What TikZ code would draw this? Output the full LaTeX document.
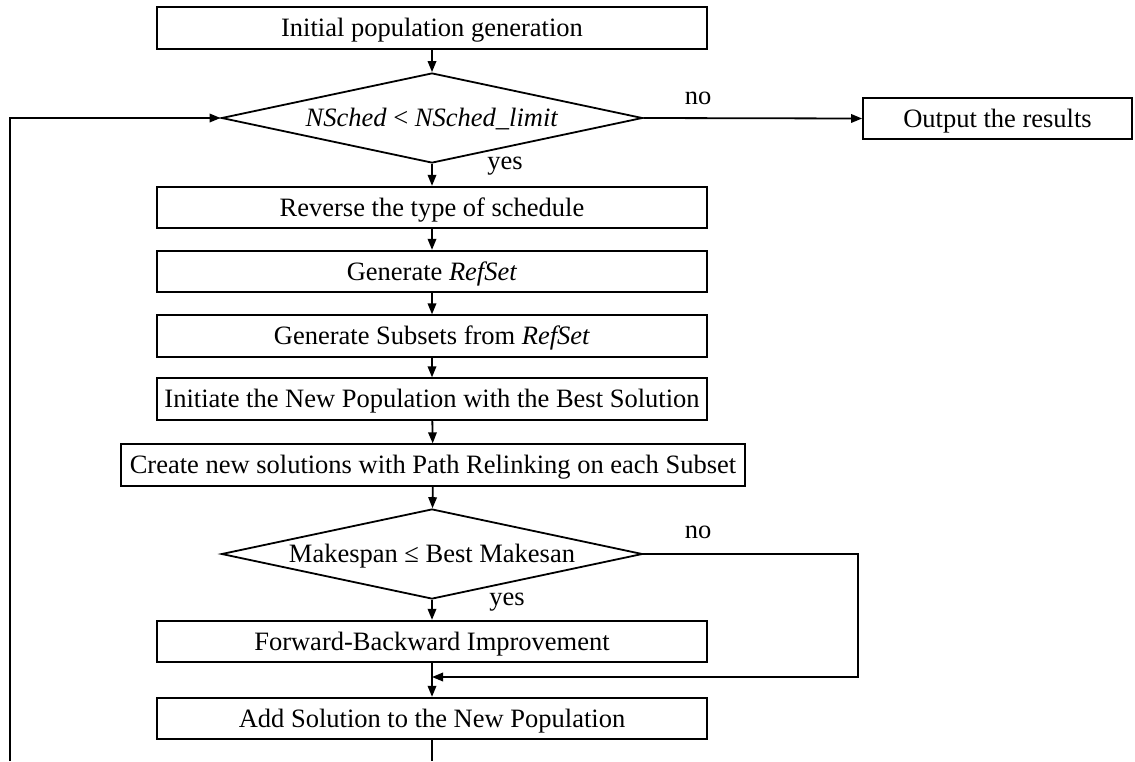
\documentclass[tikz,border=0pt]{standalone}
\usepackage{fontspec}
\setmainfont{Liberation Serif}
\usetikzlibrary{arrows.meta,shapes.geometric}

\tikzset{
  chartfont/.style={font=\fontsize{26.5}{30}\selectfont},
  stepbox/.style={draw, line width=1.8pt, rectangle, inner sep=0pt,
    minimum width=550pt, minimum height=41.5pt, text height=17.5pt,
    text depth=0pt, chartfont},
  decide/.style={draw, line width=1.8pt, diamond, inner sep=0pt, aspect=4.68,
    minimum width=421pt, minimum height=90pt, text height=17.5pt,
    text depth=0pt, chartfont},
  flow/.style={line width=1.8pt, -{Triangle[length=11pt,width=8.5pt]}},
  plain/.style={line width=1.8pt},
  tag/.style={chartfont, inner sep=0pt}
}

\begin{document}
\begin{tikzpicture}[x=1pt,y=-1pt]
  \useasboundingbox (0,0) rectangle (1135,761);

  % main column of steps
  \node[stepbox] (init)   at (432,28)    {Initial population generation};
  \node[decide]  (test)   at (432,118)   {\textit{NSched} < \textit{NSched\_limit}};
  \node[stepbox, minimum width=269pt] (out) at (997.5,118.5) {Output the results};
  \node[stepbox] (rev)    at (432,207.5) {Reverse the type of schedule};
  \node[stepbox] (gref)   at (432,271.5) {Generate \textit{RefSet}};
  \node[stepbox] (gsub)   at (432,336)   {Generate Subsets from \textit{RefSet}};
  \node[stepbox] (newpop) at (432,399)   {Initiate the New Population with the Best Solution};
  \node[stepbox, minimum width=624pt] (relink) at (433,465) {Create new solutions with Path Relinking on each Subset};
  \node[decide]  (cmp)    at (432,554)   {Makespan ≤ Best Makesan};
  \node[stepbox] (fbi)    at (432,641.5) {Forward-Backward Improvement};
  \node[stepbox] (add)    at (432,718.5) {Add Solution to the New Population};

  % helper points for the bypass and the return loop
  \coordinate (merge)  at (432,677);
  \coordinate (bypass) at (858,677);
  \coordinate (exitB)  at (432,761);
  \coordinate (exitL)  at (10,761);

  % straight flow
  \draw[flow] (init) -- (test);
  \draw[flow] (test) -- (rev);
  \draw[flow] (rev) -- (gref);
  \draw[flow] (gref) -- (gsub);
  \draw[flow] (gsub) -- (newpop);
  \draw[flow] (newpop) -- (relink);
  \draw[flow] (relink) -- (cmp);
  \draw[flow] (cmp) -- (fbi);
  \draw[flow] (fbi) -- (add);

  % exits and loops
  \draw[flow] (test.east) -- (out.west);
  \draw[flow] (cmp.east) -| (bypass) -- (merge);
  \draw[plain] (add) -- (exitB);
  \draw[flow] (exitL) |- (test.west);

  % branch labels
  \node[tag] (no1)  at (698,98)  {no};
  \node[tag] (yes1) at (505,166) {yes};
  \node[tag] (no2)  at (698,532) {no};
  \node[tag] (yes2) at (507,602) {yes};
\end{tikzpicture}
\end{document}
